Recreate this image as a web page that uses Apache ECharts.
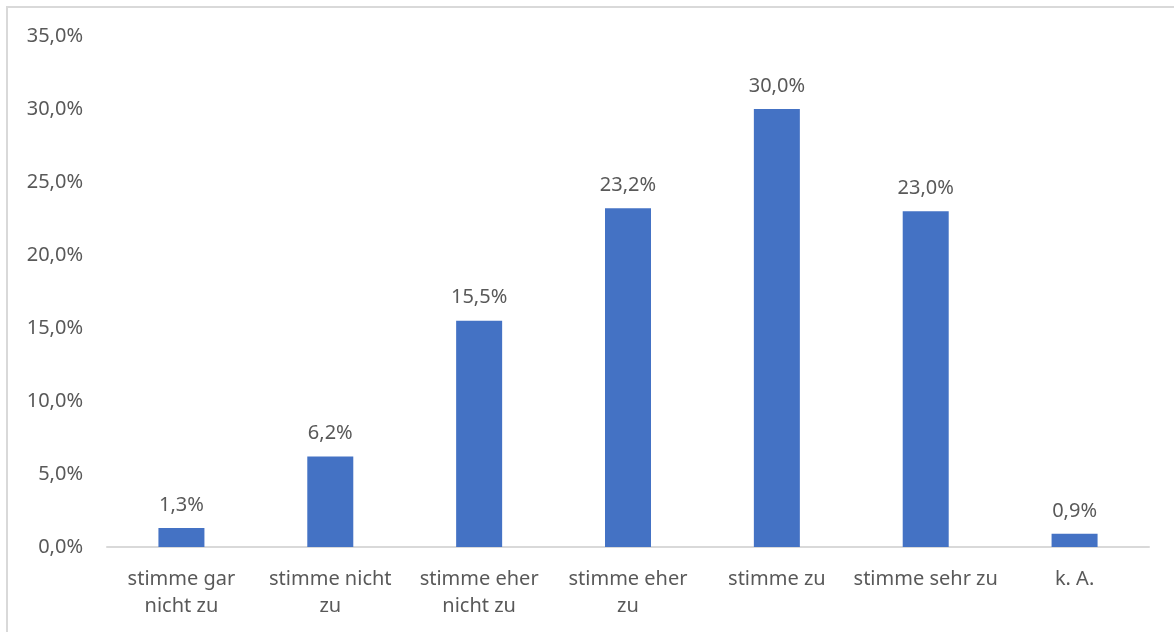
<!DOCTYPE html>
<html>
<head>
<meta charset="utf-8">
<script src="https://cdn.jsdelivr.net/npm/echarts@6/dist/echarts.min.js"></script>
<style>
  html, body { margin: 0; padding: 0; background: #fff; }
  #chart { width: 1174px; height: 632px; }
</style>
</head>
<body>
<div id="chart"></div>
<script>
// Response categories and shares (percent)
const categories = [
  'stimme gar\nnicht zu',
  'stimme nicht\nzu',
  'stimme eher\nnicht zu',
  'stimme eher\nzu',
  'stimme zu',
  'stimme sehr zu',
  'k. A.'
];
const shares = [1.3, 6.2, 15.5, 23.2, 30.0, 23.0, 0.9];

const fmtPct = v => v.toFixed(1).replace('.', ',') + '%';
const textColor = '#595959';
const fontFamily = '"Noto Sans", "Open Sans", sans-serif';

const chart = echarts.init(document.getElementById('chart'), null, { renderer: 'canvas' });
chart.setOption({
  animation: false,
  backgroundColor: '#ffffff',
  textStyle: { fontFamily: fontFamily },
  graphic: [{
    type: 'rect',
    shape: { x: 7, y: 7, width: 1200, height: 700 },
    style: { fill: 'none', stroke: '#d9d9d9', lineWidth: 2 },
    silent: true
  }],
  grid: { left: 107, right: 25, top: 36, bottom: 85 },
  xAxis: {
    type: 'category',
    data: categories,
    axisLine: { lineStyle: { color: '#d9d9d9', width: 2 } },
    axisTick: { show: false },
    axisLabel: {
      color: textColor,
      fontSize: 20,
      fontFamily: fontFamily,
      lineHeight: 27,
      margin: 19,
      interval: 0
    }
  },
  yAxis: {
    type: 'value',
    min: 0,
    max: 35,
    interval: 5,
    axisLine: { show: false },
    axisTick: { show: false },
    splitLine: { show: false },
    axisLabel: {
      color: textColor,
      fontSize: 20,
      fontFamily: fontFamily,
      margin: 24,
      formatter: v => fmtPct(v)
    }
  },
  series: [{
    type: 'bar',
    data: shares,
    barWidth: 46,
    itemStyle: { color: '#4472C4' },
    label: {
      show: true,
      position: 'top',
      distance: 13,
      color: textColor,
      fontSize: 20,
      fontFamily: fontFamily,
      formatter: p => fmtPct(p.value)
    }
  }]
});
</script>
</body>
</html>
